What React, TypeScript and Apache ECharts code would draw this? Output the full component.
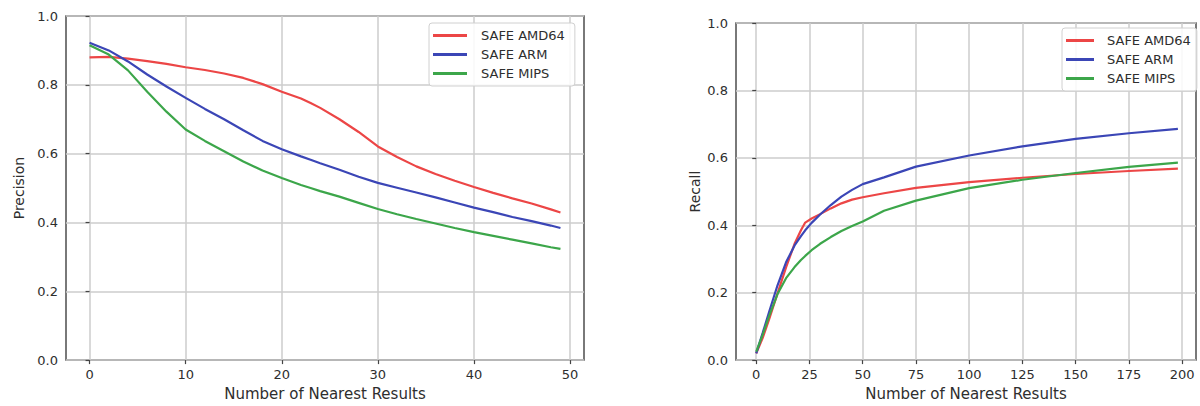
import React, { useEffect, useRef } from "react";
import * as echarts from "echarts";

// ---- Left chart: Precision vs Number of Nearest Results ----
const precisionX = [0, 2, 4, 6, 8, 10, 12, 14, 16, 18, 20, 22, 23, 24, 26, 28, 30, 32, 34, 36, 38, 40, 42, 44, 46, 48, 49];
const precisionAMD64 = [0.880, 0.881, 0.876, 0.869, 0.861, 0.851, 0.843, 0.833, 0.820, 0.802, 0.780, 0.760, 0.747, 0.733, 0.700, 0.663, 0.621, 0.590, 0.563, 0.541, 0.521, 0.503, 0.486, 0.470, 0.455, 0.438, 0.429];
const precisionARM = [0.922, 0.900, 0.868, 0.830, 0.795, 0.762, 0.730, 0.700, 0.668, 0.637, 0.613, 0.592, 0.582, 0.572, 0.553, 0.533, 0.515, 0.501, 0.487, 0.473, 0.458, 0.443, 0.430, 0.416, 0.404, 0.391, 0.384];
const precisionMIPS = [0.915, 0.888, 0.842, 0.780, 0.722, 0.670, 0.637, 0.607, 0.577, 0.551, 0.529, 0.509, 0.500, 0.491, 0.475, 0.457, 0.439, 0.424, 0.410, 0.397, 0.384, 0.372, 0.361, 0.350, 0.339, 0.328, 0.323];
const precisionXTicks = [0, 10, 20, 30, 40, 50];

// ---- Right chart: Recall vs Number of Nearest Results ----
const recallX = [0, 3, 6, 10, 14, 18, 21, 23, 26, 30, 35, 40, 45, 50, 60, 75, 100, 125, 150, 175, 198];
const recallAMD64 = [0.020, 0.065, 0.120, 0.198, 0.275, 0.345, 0.385, 0.408, 0.420, 0.433, 0.450, 0.465, 0.476, 0.483, 0.495, 0.511, 0.528, 0.541, 0.552, 0.561, 0.568];
const recallARM = [0.020, 0.080, 0.142, 0.222, 0.290, 0.340, 0.368, 0.385, 0.407, 0.432, 0.460, 0.485, 0.505, 0.522, 0.542, 0.574, 0.607, 0.634, 0.656, 0.673, 0.686];
const recallMIPS = [0.025, 0.075, 0.130, 0.196, 0.243, 0.276, 0.297, 0.309, 0.326, 0.345, 0.365, 0.383, 0.398, 0.411, 0.443, 0.473, 0.510, 0.535, 0.555, 0.573, 0.586];
const recallXTicks = [0, 25, 50, 75, 100, 125, 150, 175, 200];

const seriesNames = ["SAFE AMD64", "SAFE ARM", "SAFE MIPS"];
const colors = ["#ec4646", "#3b46b6", "#3ca64a"];

const FONT = "DejaVu Sans";
const TEXT = "#2e2e2e";

function zip(xs: number[], ys: number[]) {
  return xs.map((x, i) => [x, ys[i]]);
}

export default function App() {
  const ref = useRef<HTMLDivElement>(null);

  useEffect(() => {
    if (!ref.current) return;
    const chart = echarts.init(ref.current, undefined, { renderer: "svg" });

    const xAxisBase = (min: number, max: number, ticks: number[], gridIndex: number) => ({
      type: "value" as const,
      gridIndex,
      min,
      max,
      name: "Number of Nearest Results",
      nameLocation: "middle" as const,
      nameGap: 25,
      nameTextStyle: { fontFamily: FONT, fontSize: 15, color: TEXT },
      axisLine: { show: false },
      axisTick: {
        show: true,
        length: 4,
        customValues: ticks,
        lineStyle: { color: "#444", width: 1.2 },
      },
      axisLabel: {
        customValues: ticks,
        margin: 8,
        fontFamily: FONT,
        fontSize: 13,
        color: TEXT,
        formatter: (v: number) => (ticks.indexOf(v) >= 0 ? String(v) : ""),
      },
      splitLine: { show: true, lineStyle: { color: "#cccccc", width: 1.5 } },
    });

    const yAxisBase = (name: string, gridIndex: number, nameGap: number) => ({
      type: "value" as const,
      gridIndex,
      min: 0,
      max: 1,
      interval: 0.2,
      name,
      nameLocation: "middle" as const,
      nameGap,
      nameTextStyle: { fontFamily: FONT, fontSize: 14, color: TEXT },
      axisLine: { show: false },
      axisTick: { show: true, length: 4, lineStyle: { color: "#444", width: 1.2 } },
      axisLabel: {
        margin: 8,
        fontFamily: FONT,
        fontSize: 13,
        color: TEXT,
        formatter: (v: number) => v.toFixed(1),
      },
      splitLine: { show: true, lineStyle: { color: "#cccccc", width: 1.5 } },
    });

    const legendBase = (
      left: number,
      top: number,
      tag: string,
      itemWidth: number,
      textPad: number,
      rightPad: number,
      gap: number
    ) => ({
      show: true,
      orient: "vertical" as const,
      left,
      top,
      data: seriesNames.map((n) => ({ name: n + tag })),
      icon: "rect",
      itemWidth,
      itemHeight: 3,
      itemGap: gap,
      padding: [6, rightPad, 6, 4],
      backgroundColor: "rgba(255,255,255,0.85)",
      borderColor: "#d0d0d0",
      borderWidth: 1,
      borderRadius: 3,
      formatter: (n: string) => n.replace(/\u200b+$/, ""),
      textStyle: { fontFamily: FONT, fontSize: 13, color: TEXT, padding: [0, 0, 0, textPad] },
    });

    // distinct (invisible) suffix so each legend controls its own chart's series
    const leftTag = "";
    const rightTag = "\u200b";

    const leftSeries = [precisionAMD64, precisionARM, precisionMIPS].map((ys, i) => ({
      type: "line" as const,
      name: seriesNames[i] + leftTag,
      xAxisIndex: 0,
      yAxisIndex: 0,
      data: zip(precisionX, ys),
      showSymbol: false,
      symbol: "none",
      lineStyle: { color: colors[i], width: 2.2 },
      itemStyle: { color: colors[i] },
      z: 3,
    }));

    const rightSeries = [recallAMD64, recallARM, recallMIPS].map((ys, i) => ({
      type: "line" as const,
      name: seriesNames[i] + rightTag,
      xAxisIndex: 1,
      yAxisIndex: 1,
      data: zip(recallX, ys),
      showSymbol: false,
      symbol: "none",
      lineStyle: { color: colors[i], width: 2.2 },
      itemStyle: { color: colors[i] },
      z: 3,
    }));

    chart.setOption({
      animation: false,
      backgroundColor: "#ffffff",
      grid: [
        {
          left: 66,
          right: 1200 - 584,
          top: 16,
          bottom: 406 - 366,
          show: true,
          borderColor: "#4d4d4d",
          borderWidth: 1.5,
          backgroundColor: "transparent",
        },
        {
          left: 736,
          right: 1200 - 1196,
          top: 23,
          bottom: 406 - 366,
          show: true,
          borderColor: "#4d4d4d",
          borderWidth: 1.5,
          backgroundColor: "transparent",
        },
      ],
      xAxis: [
        xAxisBase(-2.45, 51.45, precisionXTicks, 0),
        xAxisBase(-9.5, 206.5, recallXTicks, 1),
      ],
      yAxis: [yAxisBase("Precision", 0, 40), yAxisBase("Recall", 1, 34)],
      legend: [
        legendBase(429, 23, leftTag, 34, 9, 10, 6),
        legendBase(1062, 28, rightTag, 28, 8, 6, 6),
      ],
      series: [...leftSeries, ...rightSeries],
    });

    return () => chart.dispose();
  }, []);

  return (
    <div
      ref={ref}
      style={{ position: "fixed", left: 0, top: 0, width: 1200, height: 406, background: "#fff" }}
    />
  );
}
